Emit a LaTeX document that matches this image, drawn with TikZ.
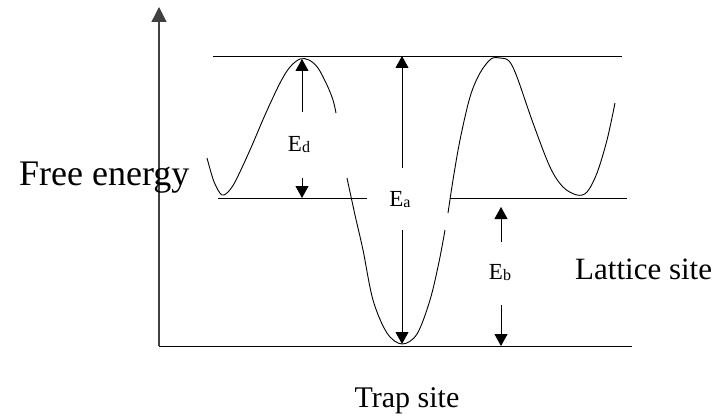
\documentclass[tikz,border=0pt]{standalone}
\usepackage{fontspec}
\setmainfont{Liberation Serif}
\usetikzlibrary{arrows.meta}
\newcommand{\en}[1]{E{\fontsize{16}{16}\selectfont\raisebox{-1pt}{#1}}}

\begin{document}
\begin{tikzpicture}[x=1pt,y=-1pt,
    level/.style={line width=0.9pt},
    darr/.style={line width=0.9pt,-{Triangle[length=12pt,width=13pt]}},
    curve/.style={line width=0.9pt,line join=round},
    elabel/.style={font=\fontsize{23}{27}\selectfont,inner sep=0pt,anchor=base},
    biglabel/.style={font=\fontsize{31}{36}\selectfont,inner sep=0pt}]
    \useasboundingbox (0,0) rectangle (718,420);
    % axis and energy levels
    \coordinate (origin) at (159,346);
    \coordinate (ytop) at (159,7);
    \coordinate (bottomend) at (632,346);
    \coordinate (topleft) at (213,56);
    \coordinate (topright) at (622,56);
    \coordinate (latleft) at (218,198);
    \coordinate (latgapl) at (367,198);
    \coordinate (latgapr) at (450,198);
    \coordinate (latright) at (627,198);
    \draw[line width=1.3pt,black!75,-{Triangle[length=15pt,width=15pt]}] (origin) -- (ytop);
    \draw[level] (origin) -- (bottomend);
    \draw[level] (topleft) -- (topright);
    \draw[level] (latleft) -- (latgapl);
    \draw[level] (latgapr) -- (latright);
    % free energy curve
    \draw[curve] plot[smooth,tension=0.55] coordinates {(207,158) (213,179) (218,190) (222,195) (227,193) (235,182) (250,150) (265,115) (280,83) (290,67) (300,59) (309,60) (318,68) (327,85) (333,100) (336,113)};
    \draw[curve] plot[smooth,tension=0.55] coordinates {(347,178) (355,215) (363,250) (373,300) (387,333) (402,344) (417,334) (430,300) (439,262) (445,230)};
    \draw[curve] plot[smooth,tension=0.55] coordinates {(448,213) (453,180) (460,140) (470,97) (480,73) (491,59) (500,58) (509,61) (517,77) (533,123) (550,167) (563,187) (577,195) (587,192) (597,173) (607,140) (615,103)};
    % energy labels
    \node[elabel] (Ed) at (299,151) {\en{d}};
    \node[elabel] (Ea) at (400,206) {\en{a}};
    \node[elabel] (Eb) at (500,279) {\en{b}};
    \coordinate (edtail1) at (302,112);
    \coordinate (edtip1) at (302,59);
    \coordinate (edtail2) at (302,178);
    \coordinate (edtip2) at (302,198);
    \coordinate (eatail1) at (402,168);
    \coordinate (eatip1) at (402,56);
    \coordinate (eatail2) at (402,230);
    \coordinate (eatip2) at (402,344);
    \coordinate (ebtail1) at (501,242);
    \coordinate (ebtip1) at (501,207);
    \coordinate (ebtail2) at (501,305);
    \coordinate (ebtip2) at (501,346);
    \draw[darr] (edtail1) -- (edtip1);
    \draw[darr] (edtail2) -- (edtip2);
    \draw[darr] (eatail1) -- (eatip1);
    \draw[darr] (eatail2) -- (eatip2);
    \draw[darr] (ebtail1) -- (ebtip1);
    \draw[darr] (ebtail2) -- (ebtip2);
    % site labels
    \node[biglabel,anchor=base west,font=\fontsize{36}{42}\selectfont] (free) at (19,185) {Free energy};
    \node[biglabel,anchor=base west] (lattice) at (575,279) {Lattice site};
    \node[biglabel,anchor=base,font=\fontsize{30}{36}\selectfont] (trap) at (407,407) {Trap site};
\end{tikzpicture}
\end{document}
